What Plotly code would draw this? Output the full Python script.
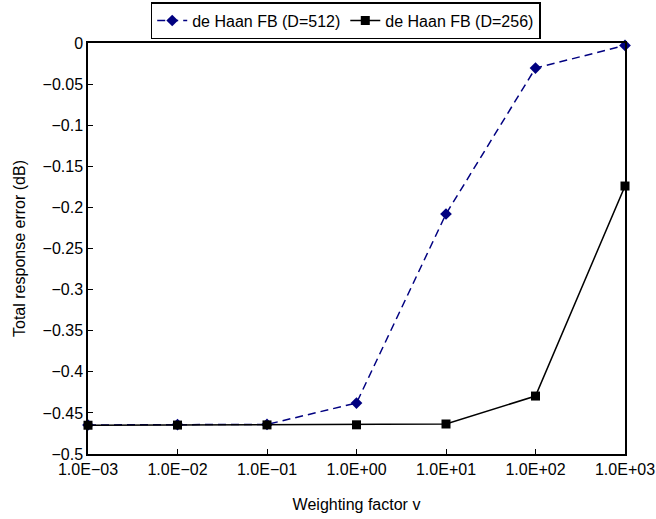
import plotly.graph_objects as go

x_vals = [1e-3, 1e-2, 1e-1, 1e0, 1e1, 1e2, 1e3]
x_labels = ["1.0E−03", "1.0E−02", "1.0E−01", "1.0E+00", "1.0E+01", "1.0E+02", "1.0E+03"]
d512 = [-0.4647, -0.4642, -0.4640, -0.4380, -0.2080, -0.0305, -0.0030]
d256 = [-0.4650, -0.4648, -0.4646, -0.4645, -0.4635, -0.4295, -0.1740]
y_ticks = [0, -0.05, -0.1, -0.15, -0.2, -0.25, -0.3, -0.35, -0.4, -0.45, -0.5]
y_labels = ["0", "−0.05", "−0.1", "−0.15", "−0.2", "−0.25", "−0.3", "−0.35", "−0.4", "−0.45", "−0.5"]

font = "Liberation Sans, Arial, sans-serif"

fig = go.Figure()
fig.add_trace(go.Scatter(
    x=x_vals, y=d512, mode="lines+markers", name="de Haan FB (D=512)",
    line=dict(color="#000080", width=1.5, dash="8px,5px"),
    marker=dict(symbol="diamond", size=9, color="#000080"),
    cliponaxis=False,
))
fig.add_trace(go.Scatter(
    x=x_vals, y=d256, mode="lines+markers", name="de Haan FB (D=256)",
    line=dict(color="black", width=1.5),
    marker=dict(symbol="square", size=9, color="black"),
    cliponaxis=False,
))

fig.update_layout(
    width=656, height=519,
    margin=dict(l=88, r=31, t=43, b=65, autoexpand=False),
    plot_bgcolor="white", paper_bgcolor="white",
    font=dict(family=font, size=16, color="black"),
    showlegend=True,
    legend=dict(
        orientation="h", x=0.527, xanchor="center", xref="container",
        y=0.996, yanchor="top", yref="container",
        bordercolor="black", borderwidth=1.5, bgcolor="white",
        font=dict(family=font, size=16), tracegroupgap=0,
    ),
    xaxis=dict(
        type="log", range=[-3, 3], tickvals=x_vals, ticktext=x_labels,
        showgrid=False, zeroline=False, showline=True, linecolor="black", linewidth=1.5,
        mirror=True, ticks="inside", ticklen=5, tickcolor="black", automargin=False,
        title=dict(text="Weighting factor v", font=dict(size=16), standoff=22),
        tickfont=dict(size=16),
    ),
    yaxis=dict(
        range=[-0.5, 0], tickvals=y_ticks, ticktext=y_labels,
        showgrid=False, zeroline=False, showline=True, linecolor="black", linewidth=1.5,
        mirror=True, ticks="inside", ticklen=5, tickcolor="black", automargin=False,
        title=dict(text="Total response error (dB)", font=dict(size=16), standoff=13),
        tickfont=dict(size=16),
    ),
)

fig.write_html("out.html")
